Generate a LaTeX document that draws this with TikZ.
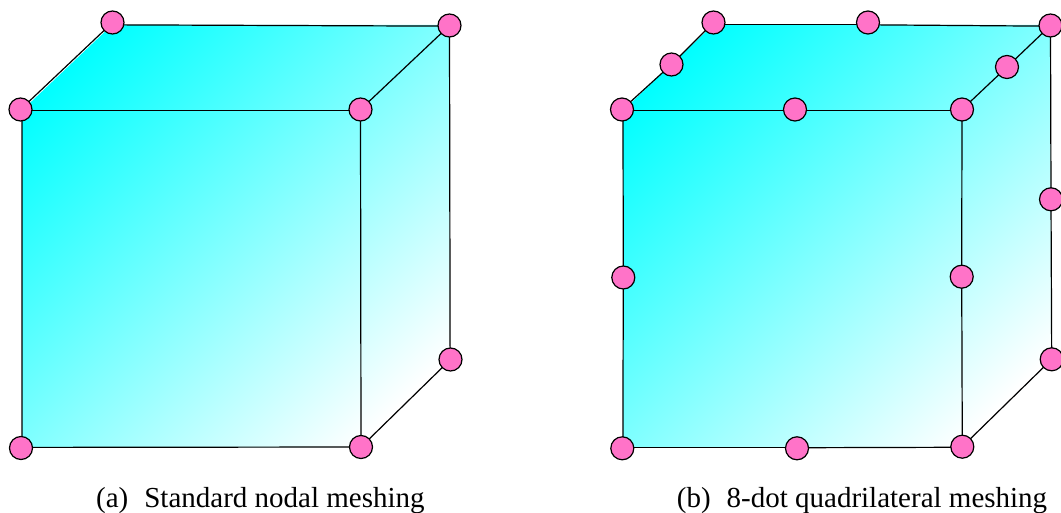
\documentclass[tikz,border=0pt]{standalone}
\usepackage{fontspec}
\setmainfont{Liberation Serif}
\usepackage{xcolor}
\usepackage{tikz}
\definecolor{dotpink}{RGB}{255,115,200}

\begin{document}
\begin{tikzpicture}[
        x=1pt, y=-1pt,
        font=\fontsize{29}{34}\selectfont,
        dot/.style={circle, draw=black, fill=dotpink, line width=1.2pt, minimum size=23pt, inner sep=0pt, outer sep=0pt},
        edge/.style={line width=1.2pt, black},
        facefill/.style={top color=white, bottom color=cyan, shading angle=225},
        caption/.style={anchor=base west, inner sep=0pt}
    ]
        \useasboundingbox (0,0) rectangle (1061,513);

        \begin{scope}
            \clip (22,110.5) -- (112,25) -- (449.5,25) -- (450,359) -- (360.5,447.5) -- (22,447.5) -- cycle;
            \shade[facefill] (-3.5,-4) rectangle (473.5,473);
        \end{scope}
        \begin{scope}
            \clip (623,110.5) -- (713,25) -- (1050.5,25) -- (1051,359) -- (961.7,447.5) -- (623,447.5) -- cycle;
            \shade[facefill] (597.5,-4) rectangle (1074.5,473);
        \end{scope}

        \node[dot] (aftl) at (20.5,109.5) {};
        \node[dot] (aftr) at (360.5,109.5) {};
        \node[dot] (afbl) at (21,448) {};
        \node[dot] (afbr) at (361,447) {};
        \node[dot] (abtl) at (112.5,22.5) {};
        \node[dot] (abtr) at (449.5,25.5) {};
        \node[dot] (abbr) at (450.5,359.5) {};

        \draw[edge] (aftl.-5) -- (aftr.185);
        \draw[edge] (aftl.-83) -- (afbl.85);
        \draw[edge] (afbl.3) -- (afbr);
        \draw[edge] (aftr) -- (afbr);
        \draw[edge] (aftl) -- (abtl);
        \draw[edge] (abtl.-12) -- (abtr.183);
        \draw[edge] (aftr) -- (abtr);
        \draw[edge] (abtr) -- (abbr.92);
        \draw[edge] (afbr) -- (abbr);

        \node[dot] (bftl) at (622,109.5) {};
        \node[dot] (bftm) at (795,109.5) {};
        \node[dot] (bftr) at (962,109.5) {};
        \node[dot] (bfml) at (623.3,277.5) {};
        \node[dot] (bfmr) at (961.7,276.7) {};
        \node[dot] (bfbl) at (622.3,448.3) {};
        \node[dot] (bfbm) at (797,448.3) {};
        \node[dot] (bfbr) at (962.3,446.7) {};
        \node[dot] (bbtl) at (713.5,22.5) {};
        \node[dot] (bbtm) at (868,22.5) {};
        \node[dot] (bbtr) at (1050.5,25.5) {};
        \node[dot] (bsdl) at (671.5,64.5) {};
        \node[dot] (bsdr) at (1007,67) {};
        \node[dot] (bbmr) at (1051,199.3) {};
        \node[dot] (bbbr) at (1051.7,359.3) {};

        \draw[edge] (bftl.-5) -- (bftm.185);
        \draw[edge] (bftm.-5) -- (bftr.185);
        \draw[edge] (bftl.-85) -- (bfml);
        \draw[edge] (bfml) -- (bfbl.87);
        \draw[edge] (bftr) -- (bfmr);
        \draw[edge] (bfmr) -- (bfbr);
        \draw[edge] (bfbl.3) -- (bfbm.177);
        \draw[edge] (bfbm.3) -- (bfbr.183);
        \draw[edge] (bftl) -- (bsdl);
        \draw[edge] (bsdl) -- (bbtl);
        \draw[edge] (bbtl.-12) -- (bbtm.192);
        \draw[edge] (bbtm.-12) -- (bbtr.183);
        \draw[edge] (bftr) -- (bsdr);
        \draw[edge] (bsdr) -- (bbtr);
        \draw[edge] (bbtr) -- (bbmr);
        \draw[edge] (bbmr) -- (bbbr);
        \draw[edge] (bfbr) -- (bbbr);

        \node[caption] (capa) at (96,507.5) {(a)\hspace{0.55em}Standard nodal meshing};
        \node[caption] (capb) at (676.7,507.5) {(b)\hspace{0.55em}8-dot quadrilateral meshing};
    \end{tikzpicture}
\end{document}
